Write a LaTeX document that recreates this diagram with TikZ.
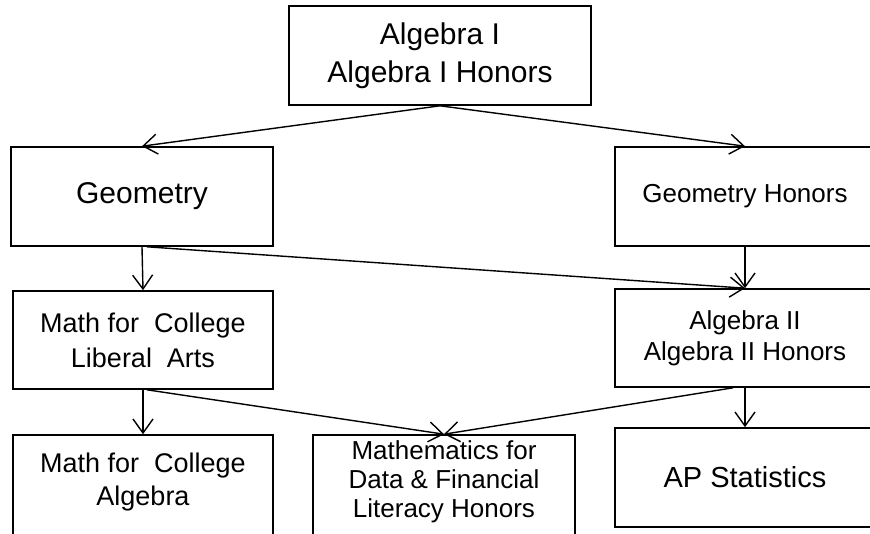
\documentclass[tikz,border=0pt]{standalone}
\usepackage{fontspec}
\setmainfont{Liberation Sans}
\usetikzlibrary{arrows.meta,calc}
\begin{document}
\begin{tikzpicture}[x=1pt,y=-1pt,
  box/.style={draw=black, line width=1.6pt, rectangle, inner sep=0pt, align=center},
  txt/.style={align=center, inner sep=0pt},
  conn/.style={line width=1.4pt, -{Straight Barb[length=14pt,width=20pt,line width=1.4pt]}}]
\useasboundingbox (0,0) rectangle (870,533);
\clip (0,0) rectangle (870,533);
\node[box, minimum width=302pt, minimum height=99pt, font=\fontsize{30}{38}\selectfont] (top) at (440,55.5) {Algebra I\\Algebra I Honors};
\node[box, minimum width=262pt, minimum height=99pt, font=\fontsize{30}{36}\selectfont] (geo) at (142,196.5) {Geometry};
\node[box, minimum width=260pt, minimum height=99pt, font=\fontsize{26}{31}\selectfont] (geoh) at (745,196.5) {Geometry Honors};
\node[box, minimum width=260pt, minimum height=98pt, font=\fontsize{27}{35}\selectfont] (mla) at (143,340) {Math for\ \ College\\Liberal\ \ Arts};
\node[box, minimum width=260pt, minimum height=98pt, font=\fontsize{26}{31}\selectfont] (alg) at (745,338) {Algebra II\\Algebra II Honors};
\node[box, minimum width=260pt, minimum height=125pt] (mca) at (143,497.5) {};
\node[txt, font=\fontsize{27}{33}\selectfont] (mcat) at (143,482) {Math for\ \ College\\Algebra};
\node[box, minimum width=262pt, minimum height=125pt] (data) at (444,497.5) {};
\node[txt, font=\fontsize{26}{29}\selectfont] (datat) at (444,481.5) {Mathematics for\\Data \& Financial\\Literacy Honors};
\node[box, minimum width=260pt, minimum height=99pt, font=\fontsize{29}{34}\selectfont] (ap) at (745,477.5) {AP Statistics};
\draw[conn] (top.south) -- (geo.north);
\draw[conn] (top.south) -- (geoh.north);
\draw[conn] (geo.south) -- (mla.north);
\draw[conn] ($(geo.south)+(5,0)$) -- (alg.north);
\draw[conn] (geoh.south) -- (alg.north);
\draw[conn] (mla.south) -- (mca.north);
\draw[conn] ($(mla.south)+(4,0)$) -- (data.north);
\draw[conn] ($(alg.south)+(-12,0)$) -- (data.north);
\draw[conn] (alg.south) -- (ap.north);
\end{tikzpicture}
\end{document}
